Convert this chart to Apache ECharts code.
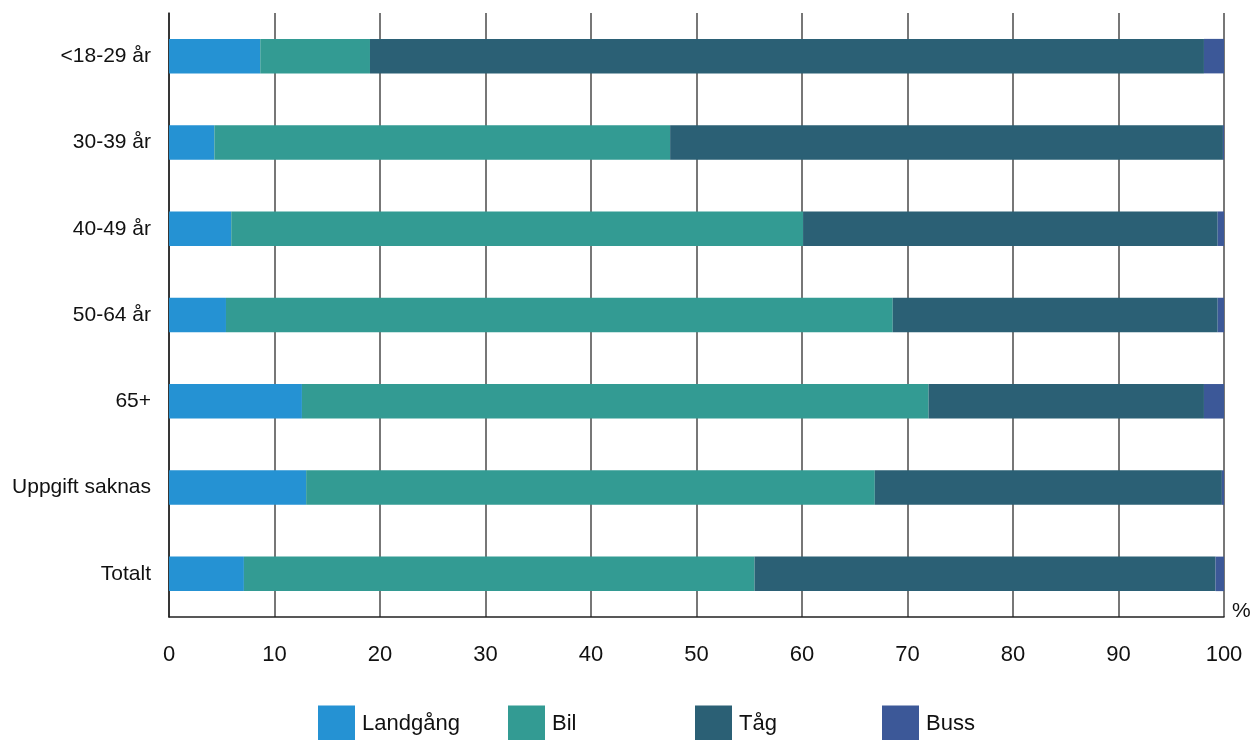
<!DOCTYPE html>
<html><head><meta charset="utf-8">
<script src="https://cdn.jsdelivr.net/npm/echarts@6/dist/echarts.min.js"></script>
<style>html,body{margin:0;padding:0;background:#fff}#c{width:1250px;height:740px}</style>
</head><body><div id="c"></div>
<script>
const categories = ['<18-29 år','30-39 år','40-49 år','50-64 år','65+','Uppgift saknas','Totalt'];
const seriesNames = ['Landgång','Bil','Tåg','Buss'];
const landgang = [8.65, 4.3, 5.9, 5.4, 12.6, 13.0, 7.1];
const bil      = [10.4, 43.2, 54.2, 63.2, 59.4, 53.9, 48.4];
const tag      = [79.05, 52.4, 39.3, 30.8, 26.1, 32.9, 43.7];
const buss     = [1.9, 0.1, 0.6, 0.6, 1.9, 0.2, 0.8];
const xTicks = [0,10,20,30,40,50,60,70,80,90,100];
const colors = ['#2592d3','#339b93','#2b6075','#3c5898'];
const values = [landgang, bil, tag, buss];
const FONT = '"Liberation Sans Narrow", "Liberation Sans", sans-serif';
const legendLefts = [318, 508, 695, 882];

const chart = echarts.init(document.getElementById('c'));
chart.setOption({
  animation: false,
  textStyle: {fontFamily: FONT},
  grid: {left: 169, right: 26, top: 13, bottom: 123, containLabel: false, outerBoundsMode: 'none'},
  xAxis: {
    type: 'value', min: 0, max: 100, interval: 10,
    axisLine: {show: true, lineStyle: {color: '#222', width: 1.5}},
    axisTick: {show: false},
    splitLine: {show: true, lineStyle: {color: '#4a4a4a', width: 1.5}},
    axisLabel: {fontSize: 22, color: '#111', margin: 27, fontFamily: FONT,
      formatter: v => xTicks.includes(v) ? String(v) : ''},
    name: '%', nameLocation: 'end', nameGap: 8,
    nameTextStyle: {fontSize: 21, color: '#111', fontFamily: FONT, verticalAlign: 'bottom', padding: [0,0,-5,0]}
  },
  yAxis: {
    type: 'category', data: categories, inverse: true,
    axisLine: {show: true, lineStyle: {color: '#222', width: 1.5}},
    axisTick: {show: false},
    splitLine: {show: false},
    axisLabel: {fontSize: 21, color: '#111', margin: 18, fontFamily: FONT}
  },
  legend: seriesNames.map((n, i) => ({
    data: [n], left: legendLefts[i], top: 704, padding: 0,
    itemWidth: 37, itemHeight: 37, itemGap: 0,
    icon: 'rect',
    textStyle: {fontSize: 22, color: '#111', fontFamily: FONT, lineHeight: 30, padding: [10,0,0,2]}
  })),
  series: seriesNames.map((n, i) => ({
    name: n, type: 'bar', stack: 'total', data: values[i],
    barWidth: '40%', itemStyle: {color: colors[i]},
    emphasis: {disabled: true}
  }))
});
</script></body></html>
